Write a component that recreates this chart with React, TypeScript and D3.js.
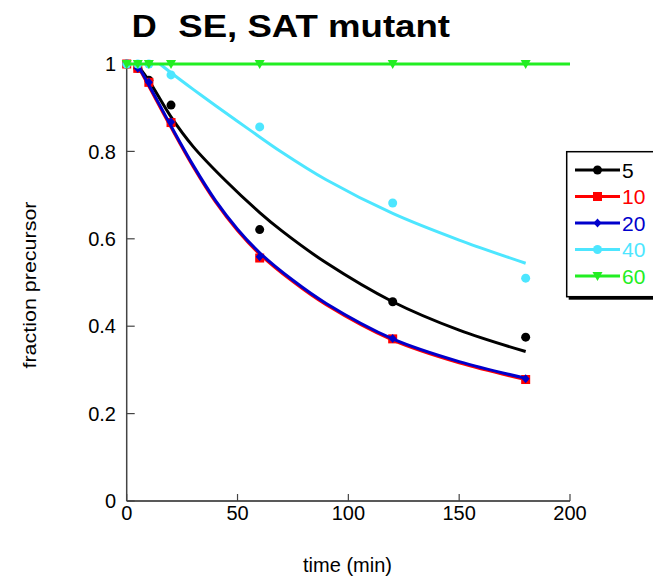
import React from "react";
import * as d3 from "d3";

// Measured data points (time in min, fraction precursor)
const times = [0, 5, 10, 20, 60, 120, 180];
const series5 = [1, 0.99, 0.963, 0.906, 0.621, 0.456, 0.375];
const series10 = [1, 0.99, 0.958, 0.866, 0.556, 0.371, 0.278];
const series20 = [1, 0.99, 0.958, 0.867, 0.559, 0.372, 0.28];
const series40 = [1, 1, 1, 0.975, 0.856, 0.682, 0.51];
const series60 = [1, 1, 1, 1, 1, 1, 1];

// Fitted curves
const fit5Times = [5, 10, 20, 30, 45, 60, 70, 90, 120, 150, 180];
const fit5 = [0.997, 0.962, 0.879, 0.811, 0.731, 0.66, 0.618, 0.545, 0.456, 0.391, 0.342];
const fit20Times = [5, 10, 20, 30, 40, 50, 60, 75, 90, 120, 150, 180];
const fit20 = [0.997, 0.952, 0.858, 0.768, 0.688, 0.622, 0.568, 0.505, 0.452, 0.371, 0.319, 0.281];
const fit10 = [0.996, 0.949, 0.855, 0.765, 0.685, 0.619, 0.565, 0.502, 0.449, 0.368, 0.316, 0.278];
const fit40Times = [15, 20, 30, 40, 55, 70, 90, 120, 150, 180];
const fit40 = [1.0, 0.98, 0.942, 0.905, 0.851, 0.798, 0.735, 0.658, 0.597, 0.544];
const fit60Times = [0, 200];
const fit60 = [1, 1];

const legendLabels = ["5", "10", "20", "40", "60"];
const xTicks = [0, 50, 100, 150, 200];
const yTicks = [0, 0.2, 0.4, 0.6, 0.8, 1];

const colors = ["#000000", "#ff0000", "#0000cc", "#4de6ff", "#22ee22"];
const markers = ["circle", "square", "diamond", "circle", "triangleDown"];

const FONT = "'Liberation Sans', Arial, Helvetica, sans-serif";

function Marker({ type, x, y, color }: { type: string; x: number; y: number; color: string }) {
  if (type === "circle") return <circle cx={x} cy={y} r={4.5} fill={color} />;
  if (type === "square") return <rect x={x - 4.5} y={y - 4.5} width={9} height={9} fill={color} />;
  if (type === "diamond")
    return <path d={`M${x},${y - 4.5}L${x + 4},${y}L${x},${y + 4.5}L${x - 4},${y}Z`} fill={color} />;
  return <path d={`M${x - 5},${y - 4}L${x + 5},${y - 4}L${x},${y + 5}Z`} fill={color} />;
}

export default function App() {
  const x = d3.scaleLinear().domain([0, 200]).range([126.7, 570]);
  const y = d3.scaleLinear().domain([0, 1]).range([501, 64]);

  const pts = [series5, series10, series20, series40, series60];
  const fits: [number[], number[]][] = [
    [fit5Times, fit5],
    [fit20Times, fit10],
    [fit20Times, fit20],
    [fit40Times, fit40],
    [fit60Times, fit60],
  ];

  const line = d3
    .line<[number, number]>()
    .x((d) => x(d[0]))
    .y((d) => y(d[1]))
    .curve(d3.curveCatmullRom.alpha(0.5));

  const legendX = 566.7;
  const legendY = 151.7;
  const rowY = (i: number) => 170 + i * 26.5;

  return (
    <svg
      width={653}
      height={582}
      style={{ position: "absolute", left: 0, top: 0, background: "#fff" }}
      fontFamily={FONT}
    >
      <rect x={0} y={0} width={653} height={582} fill="#fff" />
      {/* Title */}
      <text x={131.7} y={37} fontSize={31} fontWeight="bold" textLength={25} lengthAdjust="spacingAndGlyphs">
        D
      </text>
      <text x={178.3} y={37} fontSize={31} fontWeight="bold" textLength={271.7} lengthAdjust="spacingAndGlyphs">
        SE, SAT mutant
      </text>

      {/* Axes */}
      <line x1={x(0)} y1={60} x2={x(0)} y2={y(0)} stroke="#444" strokeWidth={1.5} />
      <line x1={x(0)} y1={y(0)} x2={x(200)} y2={y(0)} stroke="#222" strokeWidth={1.5} />
      {xTicks.map((t) => (
        <g key={"xt" + t}>
          <line x1={x(t)} y1={y(0)} x2={x(t)} y2={y(0) - 7} stroke="#444" strokeWidth={1.2} />
          <text x={x(t)} y={520} fontSize={20} textAnchor="middle">
            {t}
          </text>
        </g>
      ))}
      {yTicks.map((t) => (
        <g key={"yt" + t}>
          <line x1={x(0)} y1={y(t)} x2={x(0) + 8} y2={y(t)} stroke="#444" strokeWidth={1.2} />
          <text x={116} y={y(t)} dy="0.36em" fontSize={20} textAnchor="end">
            {t}
          </text>
        </g>
      ))}
      <text x={347.5} y={572} fontSize={20} textAnchor="middle">
        time (min)
      </text>
      <text
        transform={`translate(36,285) rotate(-90)`}
        fontSize={19}
        textAnchor="middle"
        textLength={167}
        lengthAdjust="spacingAndGlyphs"
      >
        fraction precursor
      </text>

      {/* Curves and points */}
      {pts.map((vals, i) => {
        const [ft, fv] = fits[i];
        const data: [number, number][] = ft.map((t, j) => [t, fv[j]]);
        return (
          <g key={"s" + i}>
            <path d={line(data) || ""} fill="none" stroke={colors[i]} strokeWidth={3} />
            {vals.map((v, j) => (
              <Marker key={j} type={markers[i]} x={x(times[j])} y={y(v)} color={colors[i]} />
            ))}
          </g>
        );
      })}

      {/* Legend */}
      <rect x={legendX + 2} y={legendY + 3} width={120} height={145} fill="#000" />
      <rect x={legendX} y={legendY} width={120} height={145} fill="#fff" stroke="#000" strokeWidth={1.5} />
      {legendLabels.map((lab, i) => (
        <g key={"lg" + i}>
          <line x1={575} y1={rowY(i)} x2={620} y2={rowY(i)} stroke={colors[i]} strokeWidth={3} />
          <Marker type={markers[i]} x={597.5} y={rowY(i)} color={colors[i]} />
          <text x={622} y={rowY(i)} dy="0.36em" fontSize={21} fill={colors[i]}>
            {lab}
          </text>
        </g>
      ))}
    </svg>
  );
}
